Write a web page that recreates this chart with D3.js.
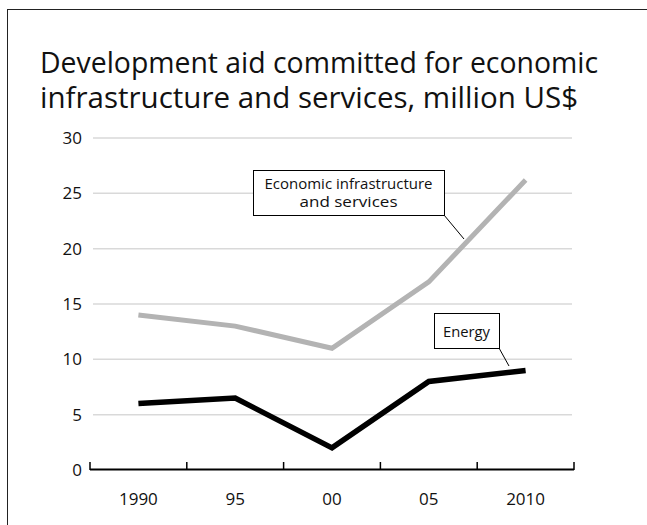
<!DOCTYPE html>
<html>
<head>
<meta charset="utf-8">
<script src="https://cdn.jsdelivr.net/npm/d3@7"></script>
<style>
  html, body { margin: 0; padding: 0; background: #fff; }
  svg { display: block; font-family: "Open Sans", "Noto Sans", sans-serif; }
</style>
</head>
<body>
<svg id="chart" width="647" height="525"></svg>
<script>
// Development aid committed, million US$
const years = ["1990", "95", "00", "05", "2010"];
const economicInfra = [14, 13, 11, 17, 26.2];
const energy = [6, 6.5, 2, 8, 9];
const yTicks = [0, 5, 10, 15, 20, 25, 30];
const titleLines = [
  "Development aid committed for economic",
  "infrastructure and services, million US$"
];

const svg = d3.select("#chart");

// frame around the figure (right and bottom edges sit outside the view)
svg.append("rect")
  .attr("x", 7.5).attr("y", 9.5)
  .attr("width", 700).attr("height", 600)
  .attr("fill", "none").attr("stroke", "#222").attr("stroke-width", 1);

// two-line title as one text block
const titleWidths = [558, 538];
const title = svg.append("text")
  .attr("font-size", 30)
  .attr("fill", "#111");
titleLines.forEach((t, i) => {
  title.append("tspan")
    .attr("x", 40).attr("y", 73 + i * 35)
    .attr("textLength", titleWidths[i])
    .attr("lengthAdjust", "spacingAndGlyphs")
    .text(t);
});

const x = d3.scaleBand().domain(years).range([90, 574]).padding(0);
const y = d3.scaleLinear().domain([0, 30]).range([470, 138]);
const cx = d => x(d) + x.bandwidth() / 2;

// horizontal gridlines
svg.append("g").selectAll("line")
  .data(yTicks.filter(v => v > 0))
  .join("line")
  .attr("x1", 93).attr("x2", 572)
  .attr("y1", d => y(d)).attr("y2", d => y(d))
  .attr("stroke", "#d9d9d9").attr("stroke-width", 1.5);

// y labels
svg.append("g").selectAll("text")
  .data(yTicks)
  .join("text")
  .attr("x", 82)
  .attr("y", d => y(d) + 6)
  .attr("text-anchor", "end")
  .attr("font-size", 17)
  .attr("fill", "#111")
  .text(d => d);

// x axis baseline with tick marks on the band edges
const axisG = svg.append("g");
axisG.append("line")
  .attr("x1", x.range()[0]).attr("x2", x.range()[1])
  .attr("y1", y(0) - 0.5).attr("y2", y(0) - 0.5)
  .attr("stroke", "#000").attr("stroke-width", 2);
const edges = years.map(d => x(d)).concat([x.range()[1]]);
axisG.selectAll("line.tick")
  .data(edges)
  .join("line")
  .attr("class", "tick")
  .attr("x1", d => d).attr("x2", d => d)
  .attr("y1", y(0)).attr("y2", y(0) - 8)
  .attr("stroke", "#000").attr("stroke-width", 1.5);
axisG.selectAll("text")
  .data(years)
  .join("text")
  .attr("x", d => cx(d))
  .attr("y", 505)
  .attr("text-anchor", "middle")
  .attr("font-size", 17)
  .attr("fill", "#111")
  .text(d => d);

// series lines
const line = d3.line()
  .x((d, i) => cx(years[i]))
  .y(d => y(d));

svg.append("path")
  .datum(economicInfra)
  .attr("d", line)
  .attr("fill", "none")
  .attr("stroke", "#b3b3b3")
  .attr("stroke-width", 5)
  .attr("stroke-linejoin", "miter");

svg.append("path")
  .datum(energy)
  .attr("d", line)
  .attr("fill", "none")
  .attr("stroke", "#000")
  .attr("stroke-width", 5.5)
  .attr("stroke-linejoin", "miter");

// callout labels
function callout(box, lines, leaderEnd, textW) {
  const g = svg.append("g");
  g.append("line")
    .attr("x1", box.x + box.w).attr("y1", box.y + box.h)
    .attr("x2", leaderEnd[0]).attr("y2", leaderEnd[1])
    .attr("stroke", "#000").attr("stroke-width", 1);
  g.append("rect")
    .attr("x", box.x + 0.5).attr("y", box.y + 0.5)
    .attr("width", box.w).attr("height", box.h)
    .attr("fill", "#fff").attr("stroke", "#000").attr("stroke-width", 1);
  lines.forEach((t, i) => {
    g.append("text")
      .attr("x", box.x + box.w / 2)
      .attr("y", box.y + box.baseline + i * 18)
      .attr("text-anchor", "middle")
      .attr("font-size", 14.5)
      .attr("fill", "#111")
      .attr("textLength", textW[i])
      .attr("lengthAdjust", "spacingAndGlyphs")
      .text(t);
  });
}

callout({ x: 253, y: 170, w: 191, h: 45, baseline: 19 },
  ["Economic infrastructure", "and services"],
  [464, 239], [168, 98]);

callout({ x: 434, y: 313, w: 65, h: 35, baseline: 24 },
  ["Energy"],
  [509, 366], [47]);
</script>
</body>
</html>
